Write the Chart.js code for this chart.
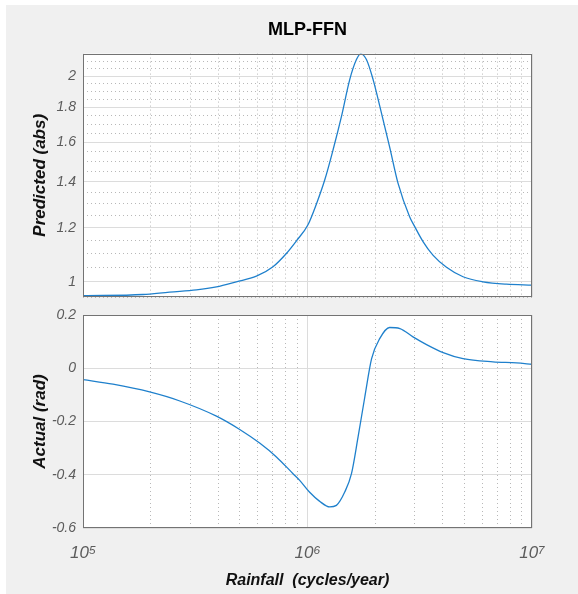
<!DOCTYPE html>
<html>
<head>
<meta charset="utf-8">
<title>MLP-FFN</title>
<script src="https://cdn.jsdelivr.net/npm/chart.js@4.4.1/dist/chart.umd.min.js"></script>
<style>
  html, body { margin: 0; padding: 0; background: #fff; overflow: hidden; }
  #figure { position: absolute; left: 6px; top: 5px; width: 572px; height: 589px; background: #f0f0f0; }
  canvas { position: absolute; left: 0; }
  #top { top: 0; }
  #bottom { top: 300px; }
</style>
</head>
<body>
<div id="figure"></div>
<canvas id="top" width="578" height="300"></canvas>
<canvas id="bottom" width="578" height="294"></canvas>
<script>
// magnitude curve
const magFreq = [1e5, 1.85e5, 2.43e5, 3.2e5, 3.93e5, 4.82e5, 5.92e5, 7.02e5, 8.05e5, 8.93e5,
    1.005e6, 1.096e6, 1.194e6, 1.30e6, 1.417e6, 1.542e6, 1.652e6, 1.726e6, 1.83e6, 1.96e6,
    2.10e6, 2.32e6, 2.53e6, 2.85e6, 3.0e6, 3.27e6, 3.62e6, 4.16e6, 4.93e6, 6.05e6, 7.69e6, 1e7]
const magValues = [0.954, 0.958, 0.966, 0.973, 0.983, 1.0, 1.019, 1.052, 1.10, 1.148,
    1.212, 1.300, 1.41, 1.56, 1.746, 1.976, 2.114, 2.155, 2.114, 1.976,
    1.806, 1.577, 1.394, 1.245, 1.205, 1.145, 1.094, 1.05, 1.017, 1.0, 0.992, 0.989]

// phase curve
const phaseFreq = [1e5, 1.36e5, 1.98e5, 2.70e5, 3.93e5, 4.99e5, 6.12e5, 7.27e5, 8.62e5, 9.23e5,
    1.02e6, 1.13e6, 1.256e6, 1.345e6, 1.465e6, 1.57e6, 1.68e6, 1.80e6, 1.93e6, 2.10e6,
    2.32e6, 2.58e6, 2.95e6, 3.39e6, 4.02e6, 4.93e6, 6.70e6, 8.53e6, 1e7]
const phaseValues = [-0.043, -0.060, -0.089, -0.123, -0.180, -0.230, -0.281, -0.333, -0.396, -0.421,
    -0.465, -0.499, -0.521, -0.515, -0.465, -0.396, -0.258, -0.108, 0.036, 0.112,
    0.153, 0.149, 0.118, 0.089, 0.059, 0.036, 0.024, 0.020, 0.015]

// ticks
const freqTicks = [1e5, 2e5, 3e5, 4e5, 5e5, 6e5, 7e5, 8e5, 9e5,
    1e6, 2e6, 3e6, 4e6, 5e6, 6e6, 7e6, 8e6, 9e6, 1e7]
const freqMajor = [1e5, 1e6, 1e7]
const freqLabels = ['10⁵', '10⁶', '10⁷']
const magTicks = [0.95, 1, 1.05, 1.1, 1.15, 1.2, 1.25, 1.3, 1.35, 1.4, 1.45, 1.5, 1.55, 1.6,
    1.65, 1.7, 1.75, 1.8, 1.85, 1.9, 1.95, 2, 2.05, 2.1, 2.15]
const magMajor = [1, 1.2, 1.4, 1.6, 1.8, 2]
const phaseTicks = [-0.6, -0.4, -0.2, 0, 0.2]
const phaseLabels = ['-0.6', '-0.4', '-0.2', '0', '0.2']

Chart.defaults.font.family = '"Liberation Sans", Arial, Helvetica, sans-serif'

const lineColor = '#1f80cc'
const majorGrid = '#dcdcdc'
const minorGrid = '#b8b8b8'
const tickColor = '#5c5c5c'

// white plot area + dark box, like a matlab axes
const boxPlugin = {
    id: 'box',
    beforeDraw(chart) {
        const { ctx, chartArea: a } = chart
        ctx.save()
        ctx.fillStyle = '#fff'
        ctx.fillRect(a.left, a.top, a.right - a.left, a.bottom - a.top)
        ctx.restore()
    },
    afterDraw(chart) {
        const { ctx, chartArea: a } = chart
        ctx.save()
        ctx.strokeStyle = '#737373'
        ctx.lineWidth = 1
        ctx.strokeRect(Math.round(a.left) + 0.5, Math.round(a.top) + 0.5,
            Math.round(a.right - a.left) - 1, Math.round(a.bottom - a.top) - 1)
        ctx.restore()
    }
}

const isIn = (list, v) => list.some(m => Math.abs(m - v) < 1e-9 * Math.max(1, Math.abs(m)))

// fixed axis sizes so both panels line up
const fixY = s => { s.width = 83; s.paddingTop = 0; s.paddingBottom = 0 }

// x axis shared by both panels
const xAxis = (showLabels) => ({
    type: 'logarithmic',
    min: 1e5,
    max: 1e7,
    afterBuildTicks: s => { s.ticks = freqTicks.map(v => ({ value: v })) },
    afterFit: s => { s.height = showLabels ? 66 : 0; s.paddingLeft = 0; s.paddingRight = 0 },
    border: {
        display: false,
        dash: c => (c.tick && !isIn(freqMajor, c.tick.value)) ? [1, 3] : []
    },
    grid: {
        drawTicks: false,
        color: c => (c.tick && isIn(freqMajor, c.tick.value)) ? majorGrid : minorGrid
    },
    ticks: {
        display: showLabels,
        autoSkip: false,
        maxRotation: 0,
        padding: 15,
        color: tickColor,
        font: { size: 17, style: 'italic' },
        callback: v => {
            const i = freqMajor.findIndex(m => Math.abs(m - v) < 1)
            return i >= 0 ? freqLabels[i] : ''
        }
    },
    title: {
        display: showLabels,
        text: 'Rainfall  (cycles/year)',
        color: '#111',
        font: { size: 16, weight: 'bold', style: 'italic' },
        padding: { top: 0, bottom: 4 }
    }
})

const yTitle = (text) => ({
    display: true,
    text,
    color: '#111',
    font: { size: 17, weight: 'bold', style: 'italic' },
    padding: { top: 30, bottom: 0 }
})

const yTickFont = { size: 14, style: 'italic' }

// Top panel: magnitude
const magChart = new Chart(document.getElementById('top'), {
    type: 'line',
    data: {
        datasets: [{
            data: magFreq.map((f, i) => ({ x: f, y: magValues[i] })),
            borderColor: lineColor,
            borderWidth: 1.3,
            pointRadius: 0,
            cubicInterpolationMode: 'monotone'
        }]
    },
    options: {
        responsive: false,
        animation: false,
        layout: { padding: { left: 0, right: 46, top: 0, bottom: 3 } },
        plugins: {
            legend: { display: false },
            tooltip: { enabled: false },
            title: {
                display: true,
                text: 'MLP-FFN',
                fullSize: false,
                color: '#000',
                font: { size: 18, weight: 'bold' },
                padding: { top: 19, bottom: 13 }
            }
        },
        scales: {
            x: xAxis(false),
            y: {
                type: 'logarithmic',
                min: 0.95,
                max: 2.157,
                afterBuildTicks: s => { s.ticks = magTicks.map(v => ({ value: v })) },
                afterFit: fixY,
                border: {
                    display: false,
                    dash: c => (c.tick && !isIn(magMajor, c.tick.value)) ? [1, 3] : []
                },
                grid: {
                    drawTicks: false,
                    color: c => (c.tick && isIn(magMajor, c.tick.value)) ? majorGrid : minorGrid
                },
                ticks: {
                    autoSkip: false,
                    padding: 7,
                    color: tickColor,
                    font: yTickFont,
                    callback: v => isIn(magMajor, v) ? String(v) : ''
                },
                title: yTitle('Predicted (abs)')
            }
        }
    },
    plugins: [boxPlugin]
})

// Bottom panel: phase
const phaseChart = new Chart(document.getElementById('bottom'), {
    type: 'line',
    data: {
        datasets: [{
            data: phaseFreq.map((f, i) => ({ x: f, y: phaseValues[i] })),
            borderColor: lineColor,
            borderWidth: 1.3,
            pointRadius: 0,
            cubicInterpolationMode: 'monotone'
        }]
    },
    options: {
        responsive: false,
        animation: false,
        layout: { padding: { left: 0, right: 46, top: 15, bottom: 0 } },
        plugins: {
            legend: { display: false },
            tooltip: { enabled: false }
        },
        scales: {
            x: xAxis(true),
            y: {
                type: 'linear',
                min: -0.6,
                max: 0.2,
                afterBuildTicks: s => { s.ticks = phaseTicks.map(v => ({ value: v })) },
                afterFit: fixY,
                border: { display: false },
                grid: { drawTicks: false, color: majorGrid },
                ticks: {
                    autoSkip: false,
                    padding: 7,
                    color: tickColor,
                    font: yTickFont,
                    callback: v => {
                        const i = phaseTicks.findIndex(t => Math.abs(t - v) < 1e-9)
                        return i >= 0 ? phaseLabels[i] : ''
                    }
                },
                title: yTitle('Actual (rad)')
            }
        }
    },
    plugins: [boxPlugin]
})
</script>
</body>
</html>
